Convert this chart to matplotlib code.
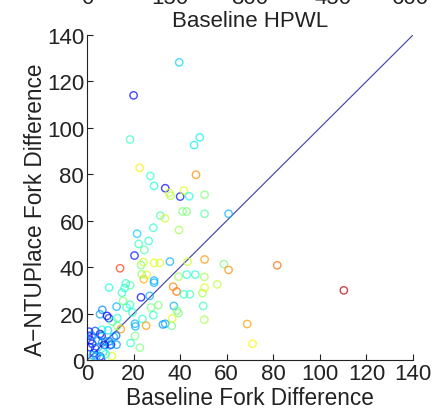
import numpy as np
import matplotlib
matplotlib.use("Agg")
import matplotlib.pyplot as plt

plt.rcParams['font.family'] = ['Liberation Sans', 'DejaVu Sans']

# Baseline fork difference (x), A-NTUPlace fork difference (y), colour value (jet)
base_fork = [39.6, 20, 18.5, 48.4, 46, 22.6, 27.2, 46.8, 28.8, 33.6, 35.3, 35.9, 40, 41.6, 43.9, 50.5,
             41, 42.8, 31.5, 33.5, 50.5, 60.8, 28.5, 39.5, 21.5, 22.2, 26.5, 24.6, 20.4, 14.2, 23.2, 24.2,
             28.8, 31.3, 35.6, 43.2, 50.5, 58.8, 60.8, 81.7, 110.3, 24.4, 25.6, 28.8, 28.8, 39.3, 42.8, 46.5,
             50.4, 55.9, 16.7, 16.2, 9.5, 15, 18.5, 37, 38.5, 26.9, 23.2, 41.6, 44.2, 49.6, 50.5, 12.7,
             17, 18.5, 19.5, 15.5, 27.5, 30.6, 37.3, 38.6, 39.3, 23.8, 28.5, 32.6, 33.6, 36.4, 36.6, 25.4,
             20.6, 20.8, 50.4, 49.9, 68.8, 71.1, 14.5, 13, 20.6, 18.7, 22.7, 10.7, 10.3, 12.7, 23.5,
             6.6, 5.6, 8.6, 9.4, 0.9, 0.6, 1.5, 2.2, 1.2, 3.5, 5.6, 6.3, 4.8, 6.5, 8, 9.5, 9.8, 7.5,
             5.6, 6, 7, 8, 3, 4, 2, 11.5, 12.5, 6.5, 3.5, 13, 11, 9, 2.5]
ntu_fork = [128.2, 114, 95, 95.9, 92.6, 82.8, 79.3, 79.8, 75, 74, 72, 70.8, 70.4, 73, 70.5, 71.2,
            64, 64, 62.2, 61, 63, 63, 57, 56, 54.4, 50, 51.3, 47.4, 45, 39.5, 40.9, 42.2,
            41.8, 41.8, 42.4, 42.3, 43.3, 41.3, 38.8, 40.8, 30, 34.8, 36.7, 34.2, 33.3, 35.9, 36.8, 36.8,
            35.8, 32.6, 33, 31, 31.2, 29, 32.2, 31.6, 29.5, 27.6, 27, 28.3, 28.3, 28.8, 31.2, 23,
            22.6, 23.8, 20.5, 25.5, 22.6, 23.6, 23.3, 21.3, 20.2, 17.7, 19.3, 15.3, 15.6, 14.7, 17.9, 14.8,
            15.6, 14.5, 17.4, 23.3, 15.5, 7, 13.3, 14.7, 10.4, 7.3, 5.3, 1.7, 6.6, 6.6, 36.9,
            21.6, 19.7, 19, 18, 12.2, 10.4, 8.5, 7, 5.5, 5, 11.2, 10.4, 8.5, 7.5, 8, 8, 6.3, 6.5,
            1.5, 0.5, 3.5, 2.5, 3, 1.5, 10.5, 10, 10.5, 13, 12.5, 18, 16.5, 12.8, 2]
color_val = [0.33, 0.12, 0.42, 0.36, 0.36, 0.66, 0.40, 0.76, 0.38, 0.12, 0.60, 0.56, 0.14, 0.62, 0.38, 0.50,
             0.50, 0.50, 0.44, 0.60, 0.45, 0.30, 0.40, 0.55, 0.33, 0.42, 0.40, 0.45, 0.14, 0.85, 0.50, 0.60,
             0.62, 0.62, 0.30, 0.60, 0.75, 0.50, 0.76, 0.80, 0.95, 0.72, 0.62, 0.30, 0.30, 0.55, 0.40, 0.40,
             0.55, 0.58, 0.40, 0.38, 0.38, 0.40, 0.45, 0.76, 0.80, 0.30, 0.12, 0.42, 0.42, 0.55, 0.62, 0.30,
             0.40, 0.40, 0.40, 0.50, 0.50, 0.50, 0.30, 0.50, 0.50, 0.40, 0.40, 0.28, 0.28, 0.48, 0.62, 0.75,
             0.30, 0.30, 0.55, 0.42, 0.74, 0.65, 0.75, 0.50, 0.50, 0.40, 0.50, 0.62, 0.10, 0.28, 0.52,
             0.25, 0.28, 0.12, 0.15, 0.12, 0.10, 0.15, 0.12, 0.15, 0.20, 0.10, 0.12, 0.28, 0.25, 0.28, 0.22, 0.30, 0.10,
             0.12, 0.15, 0.35, 0.40, 0.15, 0.30, 0.25, 0.30, 0.22, 0.38, 0.20, 0.40, 0.45, 0.35, 0.30]

diag = [0, 140]
x_ticks = [0, 20, 40, 60, 80, 100, 120, 140]
y_ticks = [0, 20, 40, 60, 80, 100, 120, 140]
top_ticks = ["0", "150", "300", "450", "600"]

W, H = 444, 410
fig = plt.figure(figsize=(W/100, H/100), dpi=100)
ax = fig.add_axes([87/W, 49/H, 326/W, 325/H])

cmap = plt.get_cmap('jet')
cols = cmap(np.array(color_val))
ax.scatter(base_fork, ntu_fork, s=28, facecolors='none', edgecolors=cols,
           linewidths=1.0, alpha=0.72, zorder=3)
ax.plot(diag, diag, color='#4646a6', lw=0.85, zorder=2)

ax.set_xlim(0, 140)
ax.set_ylim(0, 140)
ax.set_xticks(x_ticks)
ax.set_yticks(y_ticks)
ax.tick_params(direction='in', length=4, width=0.8, labelsize=16, pad=2, colors='#222222')
ax.spines['top'].set_visible(False)
ax.spines['right'].set_visible(False)
for sp in ['left', 'bottom']:
    ax.spines[sp].set_linewidth(0.8)
    ax.spines[sp].set_color('#222222')

ax.set_xlabel('Baseline Fork Difference', fontsize=16.3, color='#222222')
ax.xaxis.label.set_va('baseline')
ax.xaxis.set_label_coords(0.5, -(405 - 361) / 325)
ax.set_ylabel('A\u2212NTUPlace Fork Difference', fontsize=16.3, color='#222222')
ax.yaxis.label.set_va('center')
ax.yaxis.set_label_coords(-(87 - 35) / 326, (361 - 210) / 325)

# remnants of the subplot above (clipped at figure top)
top_x = [87, 170, 250, 333, 410]
for px, lab in zip(top_x, top_ticks):
    fig.text(px/W, 1 - 4/H, lab, ha='center', va='baseline', fontsize=16, color='#222222')
fig.text(250/W, 1 - 27/H, 'Baseline HPWL', ha='center', va='baseline', fontsize=16, color='#222222')

fig.savefig('out.png', dpi=100)
